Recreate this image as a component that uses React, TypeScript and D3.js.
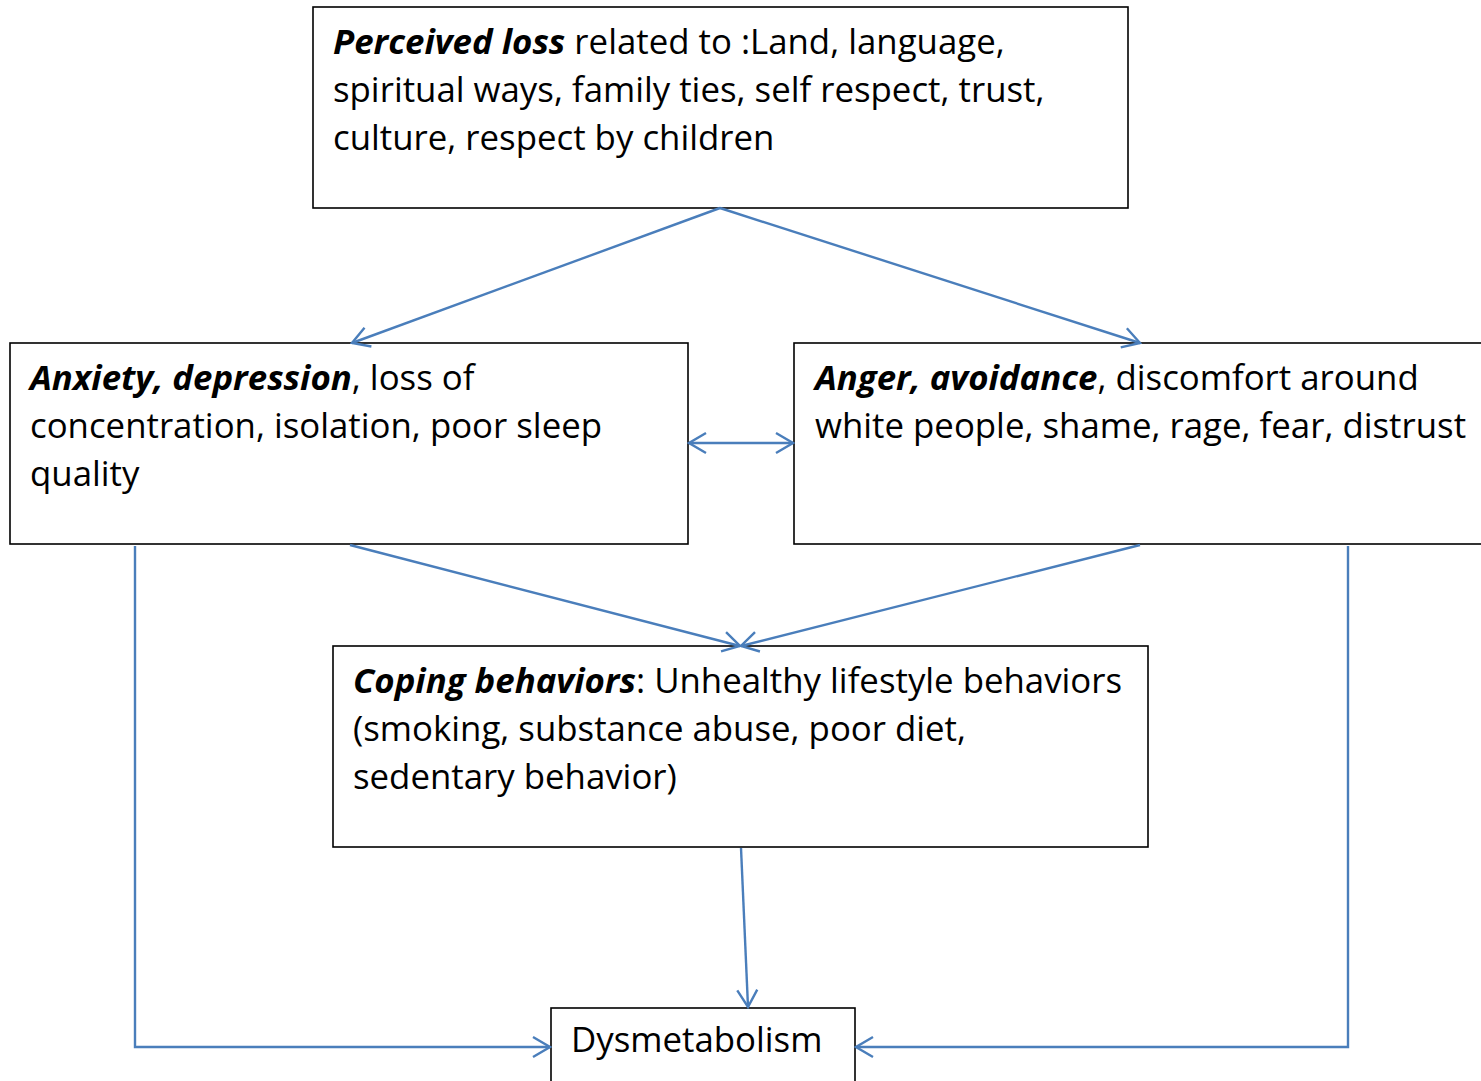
import React from "react";
import * as d3 from "d3";

const boxIds = ["loss", "anx", "anger", "coping", "dys"];
const boxRects: [number, number, number, number][] = [
  [313, 7, 815, 201],
  [10, 343, 678, 201],
  [794, 343, 700, 201],
  [333, 646, 815, 201],
  [551, 1008, 304, 90],
];
const boxLines: [string, boolean][][][] = [
  [
    [["Perceived loss", true], [" related to :Land, language,", false]],
    [["spiritual ways, family ties, self respect, trust,", false]],
    [["culture, respect by children", false]],
  ],
  [
    [["Anxiety, depression", true], [", loss of", false]],
    [["concentration, isolation, poor sleep", false]],
    [["quality", false]],
  ],
  [
    [["Anger, avoidance", true], [", discomfort around", false]],
    [["white people, shame, rage, fear, distrust", false]],
  ],
  [
    [["Coping behaviors", true], [": Unhealthy lifestyle behaviors", false]],
    [["(smoking, substance abuse, poor diet,", false]],
    [["sedentary behavior)", false]],
  ],
  [[["Dysmetabolism", false]]],
];
const textOrigin: [number, number][] = [
  [333, 54],
  [30, 390],
  [815, 390],
  [353, 693],
  [571, 1052],
];
const lineGap = 48;

const arrowPaths: [number, number][][] = [
  [[720, 208], [352, 343]],
  [[720, 208], [1140, 343]],
  [[689, 443], [793, 443]],
  [[350, 545], [740, 646]],
  [[1140, 545], [741, 646]],
  [[741, 848], [748, 1007]],
  [[135, 546], [135, 1047], [550, 1047]],
  [[1348, 546], [1348, 1047], [856, 1047]],
];
const arrowBoth = [false, false, true, false, false, false, false, false];

const FONT = "'Open Sans', Lato, sans-serif";
const BLUE = "#4a7ebb";

export default function App() {
  const line = d3.line<[number, number]>().x((d) => d[0]).y((d) => d[1]);
  return (
    <svg width={1481} height={1081} style={{ position: "absolute", left: 0, top: 0, background: "#fff" }}>
      <defs>
        <marker id="ah" viewBox="-20 -12 22 24" refX={0} refY={0} markerWidth={22} markerHeight={24} markerUnits="userSpaceOnUse" orient="auto-start-reverse">
          <path d="M-17,-10 L0,0 L-17,10" fill="none" stroke={BLUE} strokeWidth={2.4} />
        </marker>
      </defs>
      <rect x={0} y={0} width={1481} height={1081} fill="#fff" />
      {boxRects.map((r, i) => (
        <rect key={boxIds[i]} x={r[0]} y={r[1]} width={r[2]} height={r[3]} fill="#fff" stroke="#000" strokeWidth={1.6} />
      ))}
      {arrowPaths.map((p, i) => (
        <path
          key={i}
          d={line(p) || ""}
          fill="none"
          stroke={BLUE}
          strokeWidth={2.4}
          markerEnd="url(#ah)"
          markerStart={arrowBoth[i] ? "url(#ah)" : undefined}
        />
      ))}
      {boxLines.map((lines, i) =>
        lines.map((segs, j) => (
          <text key={`${i}-${j}`} x={textOrigin[i][0]} y={textOrigin[i][1] + j * lineGap} fontFamily={FONT} fontSize={34.8} fill="#000">
            {segs.map(([t, b], k) => (
              <tspan key={k} fontWeight={b ? 700 : 400} fontStyle={b ? "italic" : "normal"}>
                {t}
              </tspan>
            ))}
          </text>
        ))
      )}
    </svg>
  );
}
